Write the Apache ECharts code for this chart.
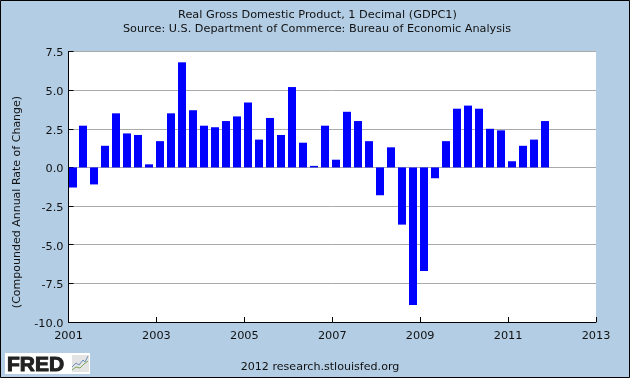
<!DOCTYPE html>
<html>
<head>
<meta charset="utf-8">
<style>html,body{margin:0;padding:0;background:#b3cde4}#chart{width:630px;height:378px}</style>
<script src="https://cdn.jsdelivr.net/npm/echarts@6/dist/echarts.min.js"></script>
</head>
<body>
<div id="chart"></div>
<script>
// quarters, as year.fraction
var quarters = [
    2001, 2001.25, 2001.5, 2001.75, 2002, 2002.25, 2002.5, 2002.75,
    2003, 2003.25, 2003.5, 2003.75, 2004, 2004.25, 2004.5, 2004.75,
    2005, 2005.25, 2005.5, 2005.75, 2006, 2006.25, 2006.5, 2006.75,
    2007, 2007.25, 2007.5, 2007.75, 2008, 2008.25, 2008.5, 2008.75,
    2009, 2009.25, 2009.5, 2009.75, 2010, 2010.25, 2010.5, 2010.75,
    2011, 2011.25, 2011.5, 2011.75
];
var gdpValues = [
    -1.3, 2.7, -1.1, 1.4, 3.5, 2.2, 2.1, 0.2,
    1.7, 3.5, 6.8, 3.7, 2.7, 2.6, 3.0, 3.3,
    4.2, 1.8, 3.2, 2.1, 5.2, 1.6, 0.1, 2.7,
    0.5, 3.6, 3.0, 1.7, -1.8, 1.3, -3.7, -8.9,
    -6.7, -0.7, 1.7, 3.8, 4.0, 3.8, 2.5, 2.4,
    0.4, 1.4, 1.8, 3.0
];
var titleText = "Real Gross Domestic Product, 1 Decimal (GDPC1)";
var sourceText = "Source: U.S. Department of Commerce: Bureau of Economic Analysis";
var yAxisText = "(Compounded Annual Rate of Change)";
var footerText = "2012 research.stlouisfed.org";

var textColor = '#111';
var labelFont = 'DejaVu Sans';

function renderBar(params, api) {
    // bar starts at the quarter's date, does not centre on it
    var top = api.coord([api.value(0), api.value(1)]);
    var base = api.coord([api.value(0), 0]);
    return {
        type: 'rect',
        shape: {
            x: Math.round(top[0]),
            y: Math.min(top[1], base[1]),
            width: 8,
            height: Math.abs(top[1] - base[1])
        },
        style: { fill: '#0000ff' }
    };
}

var seriesData = [];
for (var i = 0; i < quarters.length; i++) {
    seriesData.push([quarters[i], gdpValues[i]]);
}

var option = {
    animation: false,
    backgroundColor: '#b3cde4',
    textStyle: { fontFamily: labelFont },
    title: [
        { text: titleText, left: 312.5, textAlign: 'center', top: 5, textStyle: { fontSize: 11.3, fontWeight: 'normal', color: textColor, fontFamily: labelFont } },
        { text: sourceText, left: 312, textAlign: 'center', top: 19, textStyle: { fontSize: 11.22, fontWeight: 'normal', color: textColor, fontFamily: labelFont } }
    ],
    grid: { left: 68.5, top: 51.5, width: 527.5, height: 270.5, backgroundColor: '#fff', show: true, borderWidth: 0 },
    xAxis: {
        type: 'value',
        min: 2001,
        max: 2013,
        interval: 2,
        splitLine: { show: false },
        axisLine: { onZero: false, lineStyle: { color: '#000', width: 1 } },
        axisTick: { inside: true, length: 5, lineStyle: { color: '#000' } },
        axisLabel: { color: textColor, fontSize: 11.3, margin: 9, formatter: function (v) { return String(v); } }
    },
    yAxis: {
        type: 'value',
        min: -10,
        max: 7.5,
        interval: 2.5,
        splitLine: { show: true, lineStyle: { color: '#aaa', width: 1 } },
        axisLine: { show: true, onZero: false, lineStyle: { color: '#000', width: 1 } },
        axisTick: { show: true, inside: true, length: 5, lineStyle: { color: '#000' } },
        axisLabel: { color: textColor, fontSize: 11.3, margin: 5, verticalAlign: 'top', lineHeight: 4, formatter: function (v) { return v.toFixed(1); } }
    },
    series: [{
        type: 'custom',
        renderItem: renderBar,
        encode: { x: 0, y: 1 },
        clip: false,
        data: seriesData
    }],
    graphic: [
        // outer frame
        { type: 'rect', shape: { x: 0.5, y: 0.5, width: 629, height: 377 }, style: { fill: null, stroke: '#000', lineWidth: 1 }, z: 10 },
        { type: 'text', x: 17, y: 202, rotation: Math.PI / 2, style: { text: yAxisText, fill: textColor, font: '11px "DejaVu Sans"', align: 'center', verticalAlign: 'middle' } },
        { type: 'text', x: 320, y: 367, style: { text: footerText, fill: textColor, font: '11.1px "DejaVu Sans"', align: 'center', verticalAlign: 'middle' } },
        // FRED logo
        { type: 'rect', shape: { x: 5, y: 353, width: 85, height: 21 }, style: { fill: '#fff' } },
        { type: 'text', x: 7, y: 365, style: { text: 'FRED', fill: '#222', stroke: '#222', lineWidth: 1, font: 'bold 21px "Liberation Sans"', verticalAlign: 'middle' } },
        { type: 'rect', shape: { x: 72, y: 355, width: 17, height: 17 }, style: { fill: '#e4e4e4' } },
        { type: 'polyline', shape: { points: [[72, 367], [76, 363], [79, 365], [83, 360], [85, 362], [88, 356]] }, style: { fill: null, stroke: '#6d8fb8', lineWidth: 1 } },
        { type: 'polyline', shape: { points: [[72, 370], [76, 367], [80, 368], [84, 364], [88, 361]] }, style: { fill: null, stroke: '#7fa860', lineWidth: 1 } }
    ]
};

var dom_chart = echarts.init(document.getElementById('chart'), null, { renderer: 'canvas' });
dom_chart.setOption(option);
</script>
</body>
</html>
